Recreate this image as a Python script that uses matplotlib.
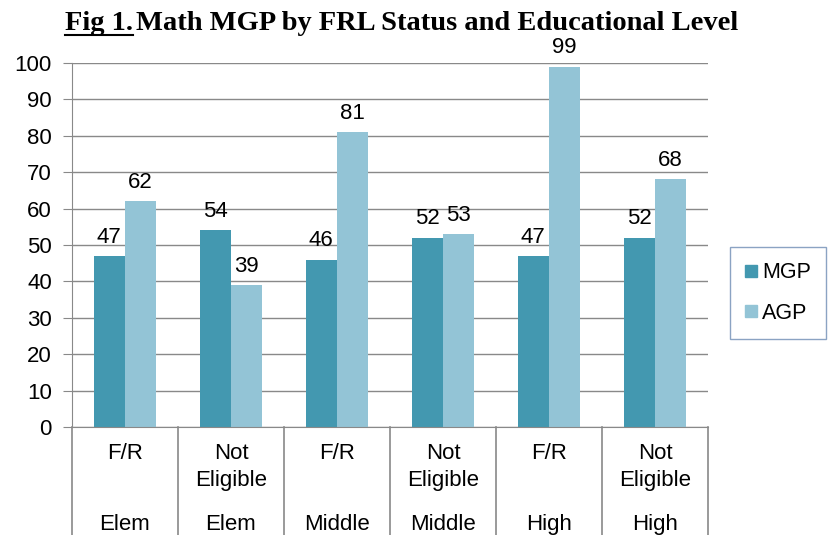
import matplotlib.pyplot as plt
from matplotlib.lines import Line2D
import numpy as np

status = ["F/R", "Not\nEligible", "F/R", "Not\nEligible", "F/R", "Not\nEligible"]
level = ["Elem", "Elem", "Middle", "Middle", "High", "High"]
mgp = [47, 54, 46, 52, 47, 52]
agp = [62, 39, 81, 53, 99, 68]

c_mgp = "#4398B0"
c_agp = "#93C4D6"
grid_c = "#898989"
fs = 16

plt.rcParams["font.family"] = ["Liberation Sans", "DejaVu Sans"]

W, H = 829, 535
fig = plt.figure(figsize=(W / 100, H / 100), dpi=100)
x0, x1, ytop, ybot = 72, 708, 63, 427
ax = fig.add_axes([x0 / W, (H - ybot) / H, (x1 - x0) / W, (ybot - ytop) / H])

x = np.arange(len(status))
bw = 0.295
b1 = ax.bar(x - bw / 2, mgp, bw, color=c_mgp, zorder=3)
b2 = ax.bar(x + bw / 2, agp, bw, color=c_agp, zorder=3)
ax.bar_label(b1, padding=6, fontsize=fs)
ax.bar_label(b2, padding=6, fontsize=fs)

ax.set_xlim(-0.5, len(status) - 0.5)
ax.set_ylim(0, 100)
ax.set_yticks(range(0, 101, 10))
ax.tick_params(axis="y", labelsize=fs, length=6.5, color=grid_c, pad=8)
ax.set_xticks([])
ax.yaxis.grid(True, color=grid_c, lw=1, zorder=0)
for s in ["top", "right"]:
    ax.spines[s].set_visible(False)
ax.spines["left"].set_color(grid_c)
ax.spines["bottom"].set_color(grid_c)
ax.spines["left"].set_zorder(4)
ax.spines["bottom"].set_zorder(4)

# two-level category axis
trans = ax.get_xaxis_transform()
for b in np.arange(len(status) + 1) - 0.5:
    ax.plot([b, b], [0, -0.32], transform=trans, color=grid_c, lw=1.2, clip_on=False)
for i in x:
    ax.text(i, -0.045, status[i], transform=trans, ha="center", va="top",
            fontsize=fs, linespacing=1.35)
    ax.text(i, -0.24, level[i], transform=trans, ha="center", va="top", fontsize=fs)

handles = [Line2D([], [], marker="s", ls="none", color=c_mgp, markersize=8),
           Line2D([], [], marker="s", ls="none", color=c_agp, markersize=8)]
leg = fig.legend(handles, ["MGP", "AGP"], loc="center", bbox_to_anchor=(778 / W, 1 - 293 / H),
                 fontsize=15.5, frameon=True, fancybox=False, handlelength=0.6,
                 handletextpad=0.2, labelspacing=0.9, borderpad=0.7)
leg.get_frame().set_edgecolor("#6E8CB4")
leg.get_frame().set_linewidth(1)

# title with underlined "Fig 1."
tfont = dict(fontsize=20.5, fontweight="bold", family=["Liberation Serif"], va="center", ha="left")
t1 = fig.text(65 / W, 1 - 23 / H, "Fig 1.", **tfont)
fig.canvas.draw()
bb = t1.get_window_extent()
fig.add_artist(Line2D([bb.x0 / W, bb.x1 / W], [(bb.y0 + 1) / H, (bb.y0 + 1) / H], color="black", lw=1.5))
fig.text((bb.x1 + 3) / W, 1 - 23 / H, "Math MGP by FRL Status and Educational Level", **tfont)

fig.savefig("out.png", dpi=100)
